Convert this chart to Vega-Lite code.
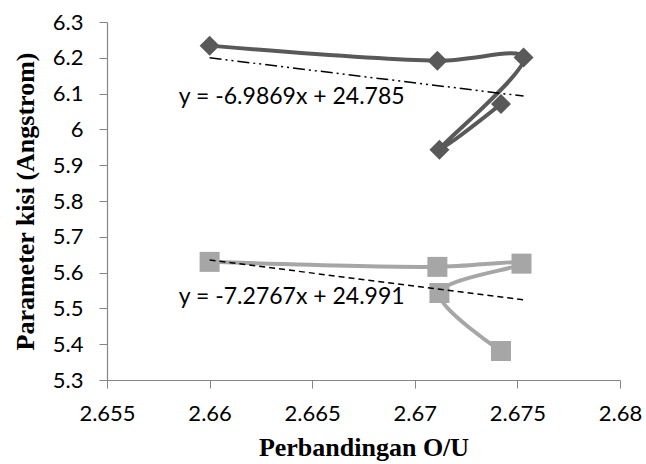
{
  "$schema": "https://vega.github.io/schema/vega-lite/v6.json",
  "width": 513,
  "height": 358,
  "autosize": "none",
  "padding": {"left": 107, "top": 22, "right": 26, "bottom": 84},
  "background": "white",
  "config": {"view": {"stroke": null}, "axis": {"labelOverlap": false, "labelFlush": false, "labelBound": false}},
  "datasets": {
    "pts": [
      {"series": "A", "ord": 1, "x": 2.66, "y": 6.234},
      {"series": "A", "ord": 2, "x": 2.6711, "y": 6.192},
      {"series": "A", "ord": 3, "x": 2.6753, "y": 6.201},
      {"series": "A", "ord": 4, "x": 2.6712, "y": 5.943},
      {"series": "A", "ord": 5, "x": 2.6742, "y": 6.071},
      {"series": "B", "ord": 1, "x": 2.66, "y": 5.63},
      {"series": "B", "ord": 2, "x": 2.6711, "y": 5.616},
      {"series": "B", "ord": 3, "x": 2.6752, "y": 5.625},
      {"series": "B", "ord": 4, "x": 2.6712, "y": 5.543},
      {"series": "B", "ord": 5, "x": 2.6742, "y": 5.381}
    ],
    "trend": [
      {"series": "A", "x": 2.66, "y": 6.2},
      {"series": "A", "x": 2.6753, "y": 6.093},
      {"series": "B", "x": 2.66, "y": 5.635},
      {"series": "B", "x": 2.6753, "y": 5.524}
    ],
    "labels": [
      {"label": "y = -6.9869x + 24.785", "x": 2.6585, "y": 6.09},
      {"label": "y = -7.2767x + 24.991", "x": 2.6585, "y": 5.532}
    ]
  },
  "encoding": {
    "x": {"field": "x", "type": "quantitative", "scale": {"domain": [2.655, 2.68], "nice": false, "zero": false},
      "axis": {"values": [2.655, 2.66, 2.665, 2.67, 2.675, 2.68], "format": "~r", "grid": false, "title": "Perbandingan O/U",
        "domainColor": "#868686", "tickColor": "#868686", "tickSize": 8, "domainWidth": 1.2, "labelOverlap": false,
        "labelFont": "Lato", "labelFontSize": 22, "labelColor": "#000000", "labelPadding": 15, "labelFlush": false,
        "titleFont": "Liberation Serif", "titleFontSize": 26, "titleFontWeight": "bold", "titleColor": "#000000", "titlePadding": 10}},
    "y": {"field": "y", "type": "quantitative", "scale": {"domain": [5.3, 6.3], "nice": false, "zero": false},
      "axis": {"tickCount": 10, "labelExpr": "format(datum.value, '.1f') === '6.0' ? '6' : format(datum.value, '.1f')", "grid": false, "title": "Parameter kisi (Angstrom)",
        "domainColor": "#868686", "tickColor": "#868686", "tickSize": 8, "domainWidth": 1.2, "labelOverlap": false,
        "labelFont": "Lato", "labelFontSize": 22, "labelColor": "#000000", "labelPadding": 16, "labelFlush": false,
        "titleFont": "Liberation Serif", "titleFontSize": 26, "titleFontWeight": "bold", "titleColor": "#000000", "titlePadding": 14}}
  },
  "layer": [
    {
      "data": {"name": "pts"},
      "mark": {"type": "line", "interpolate": "catmull-rom", "strokeWidth": 4},
      "encoding": {
        "order": {"field": "ord", "type": "quantitative"},
        "detail": {"field": "series"},
        "color": {"field": "series", "type": "nominal", "scale": {"domain": ["A", "B"], "range": ["#595959", "#A6A6A6"]}, "legend": null}
      }
    },
    {
      "data": {"name": "pts"},
      "mark": {"type": "point", "filled": true, "opacity": 1, "size": 400},
      "encoding": {
        "color": {"field": "series", "type": "nominal", "scale": {"domain": ["A", "B"], "range": ["#595959", "#A6A6A6"]}, "legend": null},
        "shape": {"field": "series", "type": "nominal", "scale": {"domain": ["A", "B"], "range": ["diamond", "square"]}, "legend": null}
      }
    },
    {
      "data": {"name": "trend"},
      "transform": [{"filter": "datum.series === 'A'"}],
      "mark": {"type": "line", "color": "#000000", "strokeWidth": 1.5, "strokeDash": [12, 4, 2, 4, 2, 4]},
      "encoding": {}
    },
    {
      "data": {"name": "trend"},
      "transform": [{"filter": "datum.series === 'B'"}],
      "mark": {"type": "line", "color": "#000000", "strokeWidth": 1.5, "strokeDash": [6, 4]},
      "encoding": {}
    },
    {
      "data": {"name": "labels"},
      "mark": {"type": "text", "align": "left", "baseline": "middle", "font": "Lato", "fontSize": 23, "color": "#000000"},
      "encoding": {
        "text": {"field": "label"}
      }
    }
  ]
}
